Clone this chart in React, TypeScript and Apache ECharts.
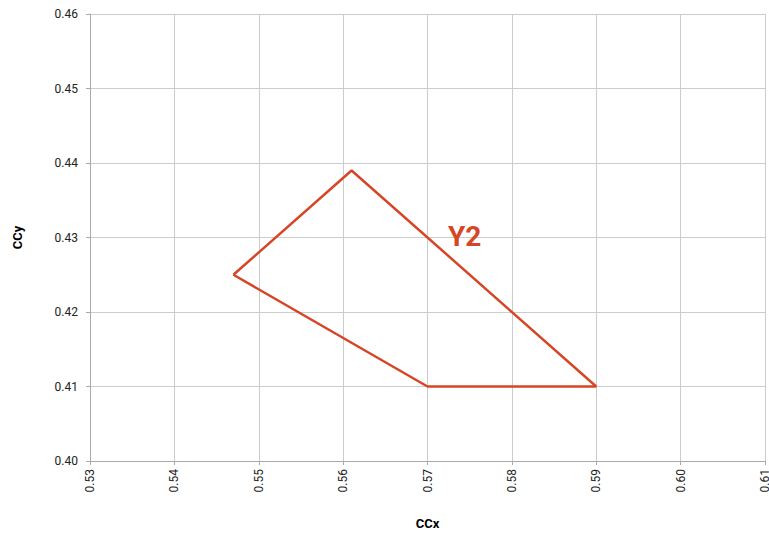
import React, { useEffect, useRef } from "react";
import * as echarts from "echarts";

const xs = [0.547, 0.561, 0.59, 0.57, 0.547];
const ys = [0.425, 0.439, 0.41, 0.41, 0.425];
const labelName = "Y2";
const labelPos = [0.5744, 0.4301];

export default function App() {
  const ref = useRef<HTMLDivElement>(null);
  useEffect(() => {
    const chart = echarts.init(ref.current!, undefined, { renderer: "svg" });
    const axisCommon = {
      type: "value" as const,
      interval: 0.01,
      nameLocation: "middle" as const,
      nameTextStyle: { fontWeight: "bold", fontSize: 13, color: "#000", fontFamily: "Roboto" },
      axisLine: { show: true, lineStyle: { color: "#aaa" } },
      axisTick: { show: true, length: 4, lineStyle: { color: "#aaa" } },
      splitLine: { show: true, lineStyle: { color: "#ccc" } },
      axisLabel: { color: "#222", fontSize: 12, fontFamily: "Roboto", formatter: (v: number) => v.toFixed(2) },
    };
    chart.setOption({
      animation: false,
      grid: { left: 90, right: 4, top: 14, bottom: 74, outerBoundsMode: "none", containLabel: false },
      xAxis: {
        ...axisCommon,
        min: 0.53,
        max: 0.61,
        name: "CCx",
        nameGap: 56,
        axisLabel: { ...axisCommon.axisLabel, rotate: 90, margin: 8 },
      },
      yAxis: {
        ...axisCommon,
        min: 0.4,
        max: 0.46,
        name: "CCy",
        nameGap: 66,
        axisLabel: { ...axisCommon.axisLabel, margin: 12 },
      },
      series: [
        {
          type: "line",
          data: xs.map((x, i) => [x, ys[i]]),
          symbol: "none",
          lineStyle: { color: "#d64626", width: 2.5 },
        },
        {
          type: "scatter",
          data: [labelPos],
          symbolSize: 0,
          itemStyle: { opacity: 1, color: "#d64626" },
          label: {
            show: true,
            position: "inside",
            formatter: labelName,
            color: "#d64626",
            fontSize: 28,
            fontWeight: "bold",
            fontFamily: "Roboto",
          },
        },
      ],
    });
    return () => chart.dispose();
  }, []);
  return <div ref={ref} style={{ width: 769, height: 535, position: "absolute", left: 0, top: 0 }} />;
}
